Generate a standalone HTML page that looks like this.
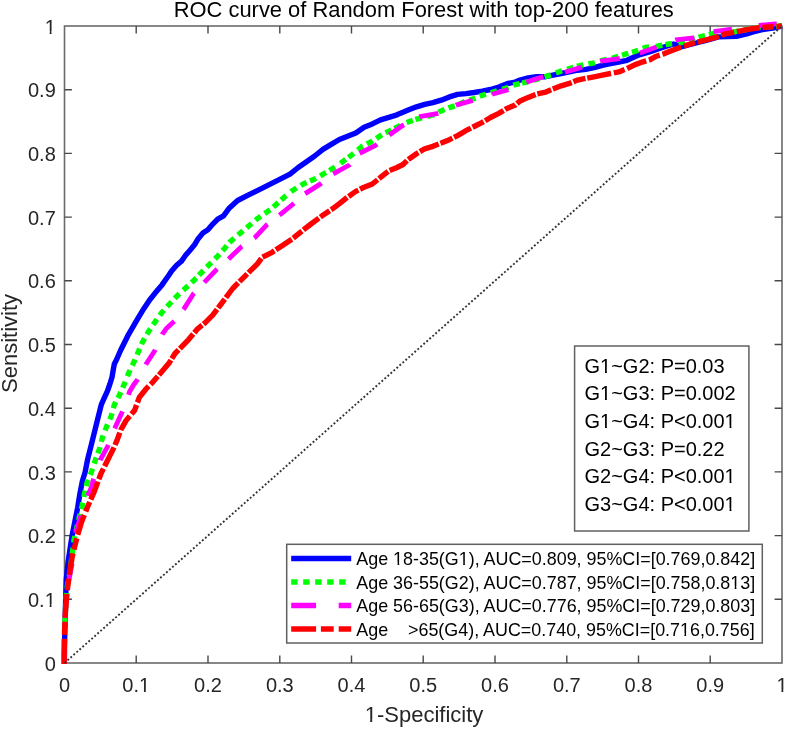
<!DOCTYPE html>
<html><head><meta charset="utf-8"><title>ROC curve</title>
<style>html,body{margin:0;padding:0;background:#fff;overflow:hidden}svg{display:block}text{white-space:pre}</style>
</head><body>
<svg width="787" height="729" viewBox="0 0 787 729" style="will-change:transform">
<rect width="787" height="729" fill="#fff"/>
<g><rect x="64.5" y="26.0" width="717.5" height="637.0" fill="none" stroke="#6a6a6a" stroke-width="1.6"/><path d="M136.2,663.0 V655.6 M136.2,26.0 V33.4 M64.5,599.3 H71.9 M782.0,599.3 H774.6 M208.0,663.0 V655.6 M208.0,26.0 V33.4 M64.5,535.6 H71.9 M782.0,535.6 H774.6 M279.8,663.0 V655.6 M279.8,26.0 V33.4 M64.5,471.9 H71.9 M782.0,471.9 H774.6 M351.5,663.0 V655.6 M351.5,26.0 V33.4 M64.5,408.2 H71.9 M782.0,408.2 H774.6 M423.2,663.0 V655.6 M423.2,26.0 V33.4 M64.5,344.5 H71.9 M782.0,344.5 H774.6 M495.0,663.0 V655.6 M495.0,26.0 V33.4 M64.5,280.8 H71.9 M782.0,280.8 H774.6 M566.8,663.0 V655.6 M566.8,26.0 V33.4 M64.5,217.1 H71.9 M782.0,217.1 H774.6 M638.5,663.0 V655.6 M638.5,26.0 V33.4 M64.5,153.4 H71.9 M782.0,153.4 H774.6 M710.2,663.0 V655.6 M710.2,26.0 V33.4 M64.5,89.7 H71.9 M782.0,89.7 H774.6" stroke="#484848" stroke-width="1.4" fill="none"/></g>
<g><path d="M64.3,664.0 L64.6,640.0 L65.2,619.0 L65.7,598.0 L66.2,580.0 L68.0,562.4 L70.1,548.7 L72.2,534.9 L74.9,521.2 L77.7,507.5 L79.9,493.7 L82.4,481.0 L85.1,472.3 L87.8,458.6 L91.3,444.9 L94.7,431.2 L98.1,417.4 L101.3,404.6 L104.4,397.7 L107.5,390.9 L109.9,384.0 L112.0,377.2 L113.2,370.3 L114.3,364.0 L116.5,359.8 L120.4,350.8 L124.5,342.5 L128.6,334.3 L133.4,326.1 L138.2,317.8 L144.1,308.2 L149.6,300.0 L155.1,293.1 L162.0,284.9 L168.8,275.3 L171.6,271.0 L176.6,265.2 L181.5,261.1 L185.6,255.3 L189.8,250.4 L194.7,244.6 L198.0,238.9 L202.9,233.1 L207.9,229.8 L212.8,224.1 L217.7,219.1 L223.5,215.8 L229.4,207.9 L237.6,200.5 L249.1,194.7 L262.3,188.1 L272.2,183.2 L282.1,178.2 L290.0,174.1 L298.2,167.5 L306.5,161.7 L314.7,156.0 L322.9,149.4 L331.2,144.4 L339.4,139.5 L347.6,136.2 L355.8,132.9 L364.1,127.2 L372.3,123.9 L380.5,119.8 L388.8,117.3 L397.0,114.8 L400.0,113.4 L408.2,110.1 L416.5,106.8 L424.7,104.3 L432.9,102.7 L441.2,100.2 L449.4,96.9 L457.6,94.4 L465.8,93.6 L474.1,92.5 L482.3,91.2 L490.5,89.5 L498.8,87.0 L507.0,83.7 L515.2,82.1 L520.0,80.1 L528.2,77.9 L536.5,76.8 L544.7,76.8 L552.9,75.1 L561.2,73.5 L569.4,71.9 L577.6,70.2 L585.8,69.4 L594.1,67.7 L602.3,65.3 L610.5,63.6 L618.8,62.0 L627.0,60.3 L635.2,56.5 L640.0,54.6 L650.2,51.6 L662.4,47.5 L673.6,44.0 L682.8,46.5 L696.0,43.0 L706.2,40.4 L718.5,36.9 L736.3,36.4 L746.7,33.8 L754.0,31.7 L762.3,29.6 L772.7,28.0 L782.0,26.0" fill="none" stroke="#0000ff" stroke-width="5.4" stroke-linejoin="round"/><path d="M64.3,664.0 L64.4,637.0 L65.0,619.0 L66.0,600.0 L67.5,585.0 L69.4,576.1 L72.6,551.4 L74.2,539.0 L77.7,523.9 L81.8,507.5 L84.5,493.7 L87.3,482.0 L91.3,472.3 L95.4,460.0 L99.5,449.0 L102.3,438.0 L106.4,427.1 L111.2,416.1 L114.4,404.6 L119.5,395.0 L124.0,384.7 L128.4,373.7 L134.1,361.7 L138.2,352.1 L142.3,342.5 L148.5,331.6 L155.1,321.9 L162.0,312.3 L168.8,304.8 L177.0,295.9 L185.3,288.3 L193.5,280.8 L202.0,272.0 L208.7,265.2 L216.9,257.0 L224.3,248.7 L229.4,242.4 L240.9,232.6 L257.4,218.6 L270.5,209.5 L285.3,196.3 L291.0,191.5 L303.2,184.0 L314.7,179.0 L326.2,172.4 L339.4,164.2 L352.6,154.3 L362.4,146.1 L372.3,141.2 L382.2,134.6 L392.1,129.6 L405.2,123.0 L416.5,119.1 L432.9,115.0 L441.2,110.9 L449.4,107.6 L457.6,105.1 L465.8,101.0 L474.1,98.6 L482.3,95.3 L490.5,92.8 L498.8,90.3 L507.0,87.9 L515.2,84.6 L520.0,83.5 L528.2,81.7 L536.5,79.3 L544.7,76.8 L552.9,74.3 L561.2,71.0 L569.4,68.6 L577.6,66.1 L585.8,64.4 L594.1,62.8 L602.3,60.3 L610.5,58.7 L618.8,56.2 L627.0,53.7 L635.2,51.3 L645.2,47.5 L658.4,46.0 L668.5,44.0 L681.8,42.5 L701.1,36.5 L712.3,33.8 L735.2,31.7 L760.0,27.1 L782.0,26.0" fill="none" stroke="#00ff00" stroke-width="5.4" stroke-dasharray="0.0 6.9 6.6 4.9 6.6 4.9 6.6 4.9 6.6 4.9 6.6 4.9 6.6 4.9 6.6 4.9 6.6 4.9 6.6 4.9 6.6 4.9 6.6 4.9 6.6 4.9 6.6 4.9 6.6 5.7 6.6 4.6 6.6 5.3 6.6 5.3 6.6 4.3 6.6 5.5 6.6 5.3 6.6 5.5 6.6 5.2 6.6 4.6 6.6 4.7 6.6 5.9 6.6 5.2 6.6 5.2 6.6 4.8 6.6 4.7 6.6 4.8 6.6 4.9 6.6 4.8 6.6 4.7 6.6 5.2 6.6 4.6 6.6 3.8 6.6 4.7 6.6 5.0 6.6 4.6 6.6 4.0 6.6 4.9 6.6 4.7 6.6 5.0 6.6 4.8 6.6 4.3 6.6 3.9 6.6 6.3 6.6 4.9 6.6 3.7 6.6 4.9 6.6 4.0 6.6 6.5 6.6 3.4 6.6 5.3 6.6 4.5 6.6 4.3 6.6 4.2 6.6 3.3 6.6 7.0 6.6 2.7 6.6 5.6 6.6 5.6 6.6 4.2 6.6 4.5 6.6 4.5 6.6 4.5 6.6 5.1 6.6 5.3 6.6 5.3 6.6 2.4 6.6 5.1 6.6 5.1 6.6 5.3 6.6 5.2 6.6 3.8 6.6 5.1 6.6 5.7 6.6 5.3 6.6 3.9 6.6 3.8 6.6 4.9 6.6 6.7 6.6 3.3 6.6 6.4 6.6 3.9 6.6 3.9 6.6 4.0 6.6 5.3 6.6 5.3 6.6 4.4 6.6 4.4 6.6 4.4 6.6 4.4 6.6 1172.4" stroke-linejoin="round"/><path d="M64.3,664.0 L64.5,640.0 L65.2,615.0 L66.5,597.0 L68.5,582.0 L70.8,570.6 L72.8,559.6 L74.5,545.0 L75.8,532.2 L79.7,519.8 L84.0,506.0 L88.6,493.7 L91.5,487.0 L93.5,479.2 L100.2,460.0 L107.7,446.3 L115.3,427.1 L122.2,412.0 L129.7,391.4 L133.5,385.0 L137.5,379.6 L145.8,364.5 L154.7,350.8 L162.2,334.3 L166.1,328.8 L174.3,321.3 L183.9,308.9 L193.5,293.8 L204.5,282.1 L216.8,269.3 L228.6,258.9 L241.7,246.5 L254.9,237.5 L267.2,224.3 L280.4,214.4 L292.6,204.5 L304.8,193.8 L320.5,183.9 L332.8,174.1 L349.3,165.0 L359.1,153.5 L375.6,145.3 L388.8,135.4 L401.8,126.0 L419.8,116.7 L438.7,113.4 L456.0,105.1 L473.3,100.2 L491.4,94.4 L508.6,89.5 L524.9,82.6 L543.0,76.8 L563.6,72.7 L582.6,66.9 L600.7,61.2 L619.6,58.7 L640.0,53.0 L655.3,47.5 L675.7,39.9 L694.0,37.9 L713.3,31.7 L733.1,29.1 L759.2,25.4 L775.8,23.9 L782.0,26.0" fill="none" stroke="#ff00ff" stroke-width="4.8" stroke-dasharray="0.0 1.5 19.5 25.0 17.0 20.0 18.0 31.0 18.1 20.8 18.1 19.5 17.5 17.6 18.7 17.8 18.1 16.7 17.7 16.7 18.0 15.0 19.4 14.9 18.6 15.1 18.6 14.7 19.2 14.9 18.9 14.7 19.4 15.0 19.2 14.9 19.6 15.3 17.9 17.6 19.1 19.3 17.6 20.3 16.9 19.5 17.9 22.0 17.8 19.1 20.0 20.5 17.9 20.0 19.2 20.2 18.5 27.2 17.5 1166.7" stroke-linejoin="round"/><path d="M64.2,664.0 L64.2,650.0 L64.7,628.0 L65.5,610.0 L67.1,592.0 L68.7,578.9 L70.1,569.2 L72.2,556.9 L74.9,545.9 L77.7,534.9 L81.8,521.2 L87.3,507.5 L93.4,493.7 L96.8,484.7 L100.9,473.7 L105.0,465.5 L109.8,455.9 L113.9,447.6 L117.4,439.4 L120.8,429.8 L126.3,420.2 L134.5,410.6 L139.4,397.2 L145.8,389.2 L152.6,382.3 L160.9,372.7 L169.1,363.1 L175.0,353.5 L188.6,339.6 L197.6,328.8 L204.5,323.3 L212.7,315.1 L220.0,305.5 L232.7,288.5 L245.8,275.3 L257.4,263.8 L262.3,257.2 L272.2,252.3 L282.1,245.7 L291.9,239.1 L300.0,232.6 L311.0,224.0 L322.9,215.2 L332.8,208.6 L339.4,203.7 L347.6,197.1 L355.8,191.4 L364.1,187.2 L372.3,184.0 L380.5,177.4 L388.8,170.8 L397.0,167.5 L403.0,164.5 L408.2,159.5 L416.5,153.7 L424.7,148.8 L432.9,146.3 L441.2,143.0 L449.4,139.7 L457.6,135.6 L465.8,130.7 L474.1,126.5 L482.3,122.4 L490.5,117.5 L498.8,113.4 L507.0,108.4 L515.2,105.1 L520.0,101.0 L528.2,97.4 L536.5,94.1 L544.7,92.4 L552.9,89.1 L561.2,85.8 L569.4,83.4 L577.6,80.1 L585.8,78.4 L594.1,76.8 L602.3,75.1 L610.5,73.5 L618.8,71.9 L627.0,68.6 L635.1,64.6 L643.1,61.8 L650.2,59.7 L656.3,56.2 L664.5,53.6 L670.6,51.1 L678.7,48.0 L685.8,45.5 L691.9,43.5 L700.1,41.4 L706.2,39.9 L715.4,37.4 L725.8,33.8 L736.3,31.7 L746.7,29.6 L757.1,28.0 L767.5,27.0 L777.9,26.5 L782.0,26.0" fill="none" stroke="#ff0000" stroke-width="5.4" stroke-dasharray="25.3 3.8 13.4 3.8 23.8 3.8 11.6 3.8 22.0 3.8 11.5 3.8 20.9 3.8 10.2 2.6 19.4 2.6 11.5 2.6 21.2 2.6 13.2 2.6 16.9 2.6 10.6 2.6 20.1 2.6 10.9 1.8 19.0 1.8 11.1 1.8 19.7 1.8 10.9 1.8 20.0 1.8 11.1 1.8 19.2 1.8 11.0 1.8 19.2 1.8 13.4 1.8 19.2 1.8 11.2 1.8 19.5 1.8 11.2 1.8 20.2 1.8 11.7 1.8 20.2 1.8 11.6 1.8 20.2 1.8 12.2 1.8 20.4 1.8 13.1 1.8 19.3 1.8 12.4 1.8 21.1 1.8 11.6 1.8 20.9 1.8 14.5 1.8 20.0 1.8 12.6 1.8 24.3 2.8 11.3 2.8 20.6 2.8 12.0 2.8 20.1 2.8 11.6 2.8 22.1 2.8 13.0 2.8 23.1 2.8 11.2 2.8 16.6 1146.3" stroke-linejoin="round"/><line x1="64.5" y1="663.0" x2="782.0" y2="26.0" stroke="#333" stroke-width="1.9" stroke-dasharray="1.9 2.1"/></g>
<g font-family="Liberation Sans, sans-serif" font-size="20" fill="#262626"><text x="64.5" y="692.4" text-anchor="middle">0</text><text x="55.8" y="670.6" text-anchor="end">0</text><text x="136.2" y="692.4" text-anchor="middle">0.1</text><text x="55.8" y="606.9" text-anchor="end">0.1</text><text x="208.0" y="692.4" text-anchor="middle">0.2</text><text x="55.8" y="543.2" text-anchor="end">0.2</text><text x="279.8" y="692.4" text-anchor="middle">0.3</text><text x="55.8" y="479.5" text-anchor="end">0.3</text><text x="351.5" y="692.4" text-anchor="middle">0.4</text><text x="55.8" y="415.8" text-anchor="end">0.4</text><text x="423.2" y="692.4" text-anchor="middle">0.5</text><text x="55.8" y="352.1" text-anchor="end">0.5</text><text x="495.0" y="692.4" text-anchor="middle">0.6</text><text x="55.8" y="288.4" text-anchor="end">0.6</text><text x="566.8" y="692.4" text-anchor="middle">0.7</text><text x="55.8" y="224.7" text-anchor="end">0.7</text><text x="638.5" y="692.4" text-anchor="middle">0.8</text><text x="55.8" y="161.0" text-anchor="end">0.8</text><text x="710.2" y="692.4" text-anchor="middle">0.9</text><text x="55.8" y="97.3" text-anchor="end">0.9</text><text x="782.0" y="692.4" text-anchor="middle">1</text><text x="55.8" y="33.6" text-anchor="end">1</text></g>
<text x="423.8" y="17.4" text-anchor="middle" font-family="Liberation Sans, sans-serif" font-size="21.9" fill="#000">ROC curve of Random Forest with top-200 features</text>
<text x="424" y="722" text-anchor="middle" font-family="Liberation Sans, sans-serif" font-size="22" fill="#262626">1-Specificity</text>
<text transform="translate(16.5,343.5) rotate(-90)" text-anchor="middle" font-family="Liberation Sans, sans-serif" font-size="22" fill="#262626">Sensitivity</text>
<rect x="574.6" y="346.0" width="174.3" height="185.0" fill="#fff" stroke="#606060" stroke-width="1.5"/><g font-family="Liberation Sans, sans-serif" font-size="20" fill="#000"><text x="584.5" y="372.8">G1~G2: P=0.03</text><text x="584.5" y="400.4">G1~G3: P=0.002</text><text x="584.5" y="428.0">G1~G4: P&lt;0.001</text><text x="584.5" y="455.6">G2~G3: P=0.22</text><text x="584.5" y="483.2">G2~G4: P&lt;0.001</text><text x="584.5" y="510.8">G3~G4: P&lt;0.001</text></g><rect x="286.7" y="544.3" width="475.6" height="98.7" fill="#fff" stroke="#606060" stroke-width="1.5"/><line x1="291.2" y1="558.5" x2="351.2" y2="558.5" stroke="#0000ff" stroke-width="5.5"/><line x1="291.2" y1="582.1" x2="351.2" y2="582.1" stroke="#00ff00" stroke-width="5.5" stroke-dasharray="6.4 5.6"/><line x1="291.2" y1="605.5" x2="351.2" y2="605.5" stroke="#ff00ff" stroke-width="5.5" stroke-dasharray="24.9 22.6"/><line x1="291.2" y1="629.1" x2="351.2" y2="629.1" stroke="#ff0000" stroke-width="5.5" stroke-dasharray="24.9 4.8 12.8 5"/><g font-family="Liberation Sans, sans-serif" font-size="17.9" fill="#000" style="white-space:pre" xml:space="preserve"><text x="356.3" y="564.9">Age 18-35(G1), AUC=0.809, 95%CI=[0.769,0.842]</text><text x="356.3" y="588.5">Age 36-55(G2), AUC=0.787, 95%CI=[0.758,0.813]</text><text x="356.3" y="611.9">Age 56-65(G3), AUC=0.776, 95%CI=[0.729,0.803]</text><text x="356.3" y="635.5">Age    &gt;65(G4), AUC=0.740, 95%CI=[0.716,0.756]</text></g><g><rect x="139.89" y="689.91" width="4.06" height="3.39" fill="#fff"/><rect x="145.81" y="689.91" width="3.90" height="3.39" fill="#fff"/><rect x="45.58" y="604.41" width="4.06" height="3.39" fill="#fff"/><rect x="51.51" y="604.41" width="3.90" height="3.39" fill="#fff"/><rect x="777.36" y="689.91" width="4.06" height="3.39" fill="#fff"/><rect x="783.28" y="689.91" width="3.90" height="3.39" fill="#fff"/><rect x="45.60" y="31.11" width="4.06" height="3.39" fill="#fff"/><rect x="51.52" y="31.11" width="3.90" height="3.39" fill="#fff"/><rect x="365.78" y="719.36" width="4.41" height="3.54" fill="#fff"/><rect x="372.23" y="719.36" width="4.23" height="3.54" fill="#fff"/><rect x="600.97" y="370.31" width="4.06" height="3.39" fill="#fff"/><rect x="606.89" y="370.31" width="3.90" height="3.39" fill="#fff"/><rect x="600.97" y="397.91" width="4.06" height="3.39" fill="#fff"/><rect x="606.89" y="397.91" width="3.90" height="3.39" fill="#fff"/><rect x="600.97" y="425.51" width="4.06" height="3.39" fill="#fff"/><rect x="606.89" y="425.51" width="3.90" height="3.39" fill="#fff"/><rect x="725.52" y="425.51" width="4.06" height="3.39" fill="#fff"/><rect x="731.44" y="425.51" width="3.90" height="3.39" fill="#fff"/><rect x="725.52" y="480.71" width="4.06" height="3.39" fill="#fff"/><rect x="731.44" y="480.71" width="3.90" height="3.39" fill="#fff"/><rect x="725.52" y="508.31" width="4.06" height="3.39" fill="#fff"/><rect x="731.44" y="508.31" width="3.90" height="3.39" fill="#fff"/><rect x="393.86" y="562.56" width="3.69" height="3.24" fill="#fff"/><rect x="399.23" y="562.56" width="3.55" height="3.24" fill="#fff"/><rect x="459.49" y="562.56" width="3.69" height="3.24" fill="#fff"/><rect x="464.86" y="562.56" width="3.55" height="3.24" fill="#fff"/><rect x="731.02" y="586.16" width="3.69" height="3.24" fill="#fff"/><rect x="736.39" y="586.16" width="3.55" height="3.24" fill="#fff"/><rect x="680.77" y="633.16" width="3.69" height="3.24" fill="#fff"/><rect x="686.14" y="633.16" width="3.55" height="3.24" fill="#fff"/></g></svg>
</body></html>
